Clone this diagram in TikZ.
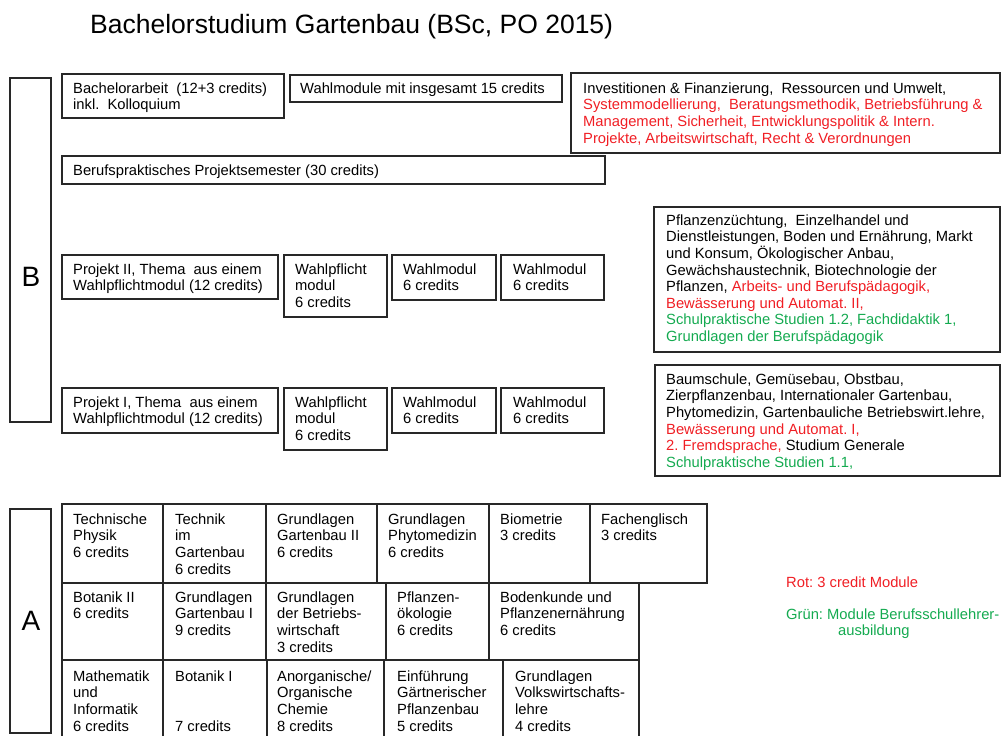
\documentclass[tikz,border=0pt]{standalone}
\usepackage{fontspec}
\setmainfont{Liberation Sans}
\frenchspacing
\definecolor{rd}{RGB}{240,30,36}
\definecolor{gn}{RGB}{20,170,80}
\definecolor{ln}{RGB}{40,40,40}
\newcommand\mybox[5]{\node[box, minimum width={#4pt-#2pt}, minimum height={#5pt-#3pt}] (#1) at (#2,#3) {};}
\newcommand\mytext[4]{\node[txt] (#1) at (#2,#3) {\strut#4};}
\begin{document}
\begin{tikzpicture}[x=1pt,y=-1pt,
  box/.style={draw=ln, line width=1.4pt, inner sep=0pt, outer sep=0pt, anchor=north west},
  txt/.style={anchor=north west, yshift=11.62pt, align=left, inner sep=0pt, font=\fontsize{14.75}{16.6}\selectfont\frenchspacing, text=black},
  big/.style={inner sep=0pt, font=\fontsize{28}{30}\selectfont}]
\clip (0,0) rectangle (1002,736);
% title
\node[anchor=base west, inner sep=0pt, font=\fontsize{26.5}{30}\selectfont] (title) at (90,34) {Bachelorstudium Gartenbau (BSc, PO 2015)};
% ---------------- B ----------------
\mybox{bbar}{10}{78}{51}{422}
\node[big] (bl) at (31,277) {B};
\mybox{ba}{62}{74}{284}{118}
\mytext{bat}{73}{93}{Bachelorarbeit\ \ (12+3 credits)\\inkl.\ \ Kolloquium}
\mybox{wm}{290}{75}{562}{102}
\mytext{wmt}{300}{93}{Wahlmodule mit insgesamt 15 credits}
\mybox{rt}{571}{73}{1000}{153}
\mytext{rtt}{583}{93}{Investitionen \& Finanzierung,\ \ Ressourcen und Umwelt,\\
\textcolor{rd}{Systemmodellierung,\ \ Beratungsmethodik, Betriebsführung \&}\\
\textcolor{rd}{Management, Sicherheit, Entwicklungspolitik \& Intern.}\\
\textcolor{rd}{Projekte, Arbeitswirtschaft, Recht \& Verordnungen}}
\mybox{bp}{62}{156}{605}{184}
\mytext{bpt}{73}{175}{Berufspraktisches Projektsemester (30 credits)}
% row Projekt II
\mybox{p2}{62}{255}{278}{299}
\mytext{p2t}{73}{274}{Projekt II, Thema\ \ aus einem\\Wahlpflichtmodul (12 credits)}
\mybox{wp2}{284}{255}{387}{317}
\mytext{wp2t}{295}{274}{Wahlpflicht\\modul\\6 credits}
\mybox{wa2}{392}{255}{496}{300}
\mytext{wa2t}{403}{274}{Wahlmodul\\6 credits}
\mybox{wb2}{501}{255}{604}{300}
\mytext{wb2t}{513}{274}{Wahlmodul\\6 credits}
% row Projekt I
\mybox{p1}{62}{388}{278}{433}
\mytext{p1t}{73}{407}{Projekt I, Thema\ \ aus einem\\Wahlpflichtmodul (12 credits)}
\mybox{wp1}{284}{388}{387}{450}
\mytext{wp1t}{295}{407}{Wahlpflicht\\modul\\6 credits}
\mybox{wa1}{392}{388}{496}{433}
\mytext{wa1t}{403}{407}{Wahlmodul\\6 credits}
\mybox{wb1}{501}{388}{604}{433}
\mytext{wb1t}{513}{407}{Wahlmodul\\6 credits}
% right boxes
\mybox{rm}{654}{207}{1000}{352}
\mytext{rmt}{666}{225}{Pflanzenzüchtung,\ \ Einzelhandel und\\
Dienstleistungen, Boden und Ernährung, Markt\\
und Konsum, Ökologischer Anbau,\\
Gewächshaustechnik, Biotechnologie der\\
Pflanzen, \textcolor{rd}{Arbeits- und Berufspädagogik,}\\
\textcolor{rd}{Bewässerung und Automat. II,}\\
\textcolor{gn}{Schulpraktische Studien 1.2, Fachdidaktik 1,}\\
\textcolor{gn}{Grundlagen der Berufspädagogik}}
\mybox{rl}{655}{365}{1000}{476}
\mytext{rlt}{666}{384}{Baumschule, Gemüsebau, Obstbau,\\
Zierpflanzenbau, Internationaler Gartenbau,\\
Phytomedizin, Gartenbauliche Betriebswirt.lehre,\\
\textcolor{rd}{Bewässerung und Automat. I,}\\
\textcolor{rd}{2. Fremdsprache,} Studium Generale\\
\textcolor{gn}{Schulpraktische Studien 1.1,}}
% ---------------- A ----------------
\mybox{abar}{10}{509}{51}{733}
\node[big] (al) at (31,621) {A};
% row 1
\mybox{c11}{62}{504}{163}{583}
\mytext{t11}{73}{524}{Technische\\Physik\\6 credits}
\mybox{c12}{163}{504}{266}{583}
\mytext{t12}{175}{524}{Technik\\im\\Gartenbau\\6 credits}
\mybox{c13}{266}{504}{377}{583}
\mytext{t13}{277}{524}{Grundlagen\\Gartenbau II\\6 credits}
\mybox{c14}{377}{504}{489}{583}
\mytext{t14}{388}{524}{Grundlagen\\Phytomedizin\\6 credits}
\mybox{c15}{489}{504}{590}{583}
\mytext{t15}{500}{524}{Biometrie\\3 credits}
\mybox{c16}{590}{504}{707}{583}
\mytext{t16}{601}{524}{Fachenglisch\\3 credits}
% row 2
\mybox{c21}{62}{583}{163}{660}
\mytext{t21}{73}{602}{Botanik II\\6 credits}
\mybox{c22}{163}{583}{266}{660}
\mytext{t22}{175}{602}{Grundlagen\\Gartenbau I\\9 credits}
\mybox{c23}{266}{583}{386}{660}
\mytext{t23}{277}{602}{Grundlagen\\der Betriebs-\\wirtschaft\\3 credits}
\mybox{c24}{386}{583}{489}{660}
\mytext{t24}{397}{602}{Pflanzen-\\ökologie\\6 credits}
\mybox{c25}{489}{583}{639}{660}
\mytext{t25}{500}{602}{Bodenkunde und\\Pflanzenernährung\\6 credits}
% row 3
\mybox{c31}{62}{660}{163}{760}
\mytext{t31}{73}{681}{Mathematik\\und\\Informatik\\6 credits}
\mybox{c32}{163}{660}{267}{760}
\mytext{t32}{175}{681}{Botanik I\\\mbox{}\\\mbox{}\\7 credits}
\mybox{c33}{267}{660}{384}{760}
\mytext{t33}{277}{681}{Anorganische/\\Organische\\Chemie\\8 credits}
\mybox{c34}{384}{660}{503}{760}
\mytext{t34}{397}{681}{Einführung\\Gärtnerischer\\Pflanzenbau\\5 credits}
\mybox{c35}{503}{660}{639}{760}
\mytext{t35}{515}{681}{Grundlagen\\Volkswirtschafts-\\lehre\\4 credits}
% legend
\node[txt, text=rd] (lr) at (786,587) {\strut Rot: 3 credit Module};
\node[txt, text=gn] (lg) at (786,619) {\strut Grün: Module Berufsschullehrer-\\\hspace*{52pt}ausbildung};
\end{tikzpicture}
\end{document}
